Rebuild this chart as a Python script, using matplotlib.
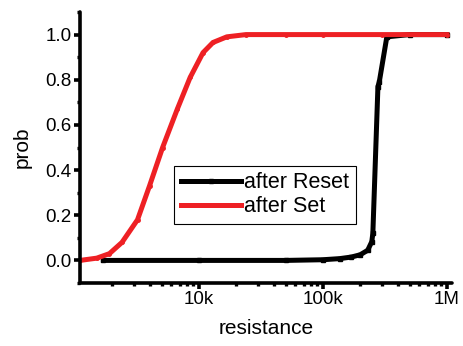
import matplotlib
matplotlib.use("Agg")
import matplotlib.pyplot as plt
from matplotlib.ticker import LogLocator, FixedLocator, MultipleLocator, FuncFormatter

plt.rcParams['font.family'] = ['Liberation Sans', 'DejaVu Sans']

# after Set (red)
set_r = [1.1e3, 1.5e3, 1.9e3, 2.4e3, 3.2e3, 4.0e3, 5.1e3, 6.7e3, 8.5e3, 1.08e4,
         1.3e4, 1.68e4, 2.4e4, 5e4, 1e5, 3e5, 1e6]
set_p = [0.0, 0.01, 0.03, 0.08, 0.18, 0.33, 0.50, 0.67, 0.81, 0.92,
         0.965, 0.99, 1.0, 1.0, 1.0, 1.0, 1.0]

# after Reset (black)
reset_r = [1.7e3, 1e4, 5e4, 1e5, 1.37e5, 1.7e5, 2.0e5, 2.3e5, 2.48e5, 2.53e5,
           2.78e5, 2.85e5, 3.28e5, 5e5, 1e6]
reset_p = [0.0, 0.0, 0.0, 0.003, 0.008, 0.015, 0.025, 0.045, 0.083, 0.12,
           0.77, 0.79, 0.99, 1.0, 1.0]

fig = plt.figure(figsize=(4.63, 3.46), dpi=100)
ax = fig.add_axes([80/463, 1-283/346, 372/463, 271/346])

ax.plot(reset_r, reset_p, color='black', lw=3.6, marker='s', ms=2.5,
        solid_joinstyle='round', label='after Reset')
ax.plot(set_r, set_p, color='#ee2024', lw=3.6, marker='o', ms=2.5,
        solid_joinstyle='round', label='after Set')

ax.set_xscale('log')
ax.set_xlim(1.1e3, 1.1e6)
ax.set_ylim(-0.1, 1.1)

ax.xaxis.set_major_locator(FixedLocator([1e4, 1e5, 1e6]))
ax.xaxis.set_major_formatter(FuncFormatter(lambda v, p: {1e4: '10k', 1e5: '100k', 1e6: '1M'}.get(v, '')))
ax.xaxis.set_minor_locator(LogLocator(base=10, subs=range(2, 10), numticks=20))
ax.set_yticks([0.0, 0.2, 0.4, 0.6, 0.8, 1.0])
ax.yaxis.set_major_formatter(FuncFormatter(lambda v, p: f'{v:.1f}'))
ax.yaxis.set_minor_locator(MultipleLocator(0.1))

for s in ['top', 'right']:
    ax.spines[s].set_visible(False)
for s in ['left', 'bottom']:
    ax.spines[s].set_linewidth(2.6)
    ax.spines[s].set_capstyle('round')

ax.tick_params(which='major', direction='out', length=4, width=2.6, labelsize=13.5, pad=2)
ax.tick_params(which='minor', direction='out', length=2.5, width=2.4)

ax.set_xlabel('resistance', fontsize=15, labelpad=8)
ax.set_ylabel('prob', fontsize=15, labelpad=10)

leg = ax.legend(loc='lower left', bbox_to_anchor=(0.253, 0.218), borderaxespad=0,
                fancybox=False, edgecolor='black', fontsize=15.5, handlelength=2.8,
                handletextpad=0.15, borderpad=0.3, labelspacing=0.15, framealpha=1)
leg.get_frame().set_linewidth(0.8)

fig.savefig('out.png', dpi=100)
